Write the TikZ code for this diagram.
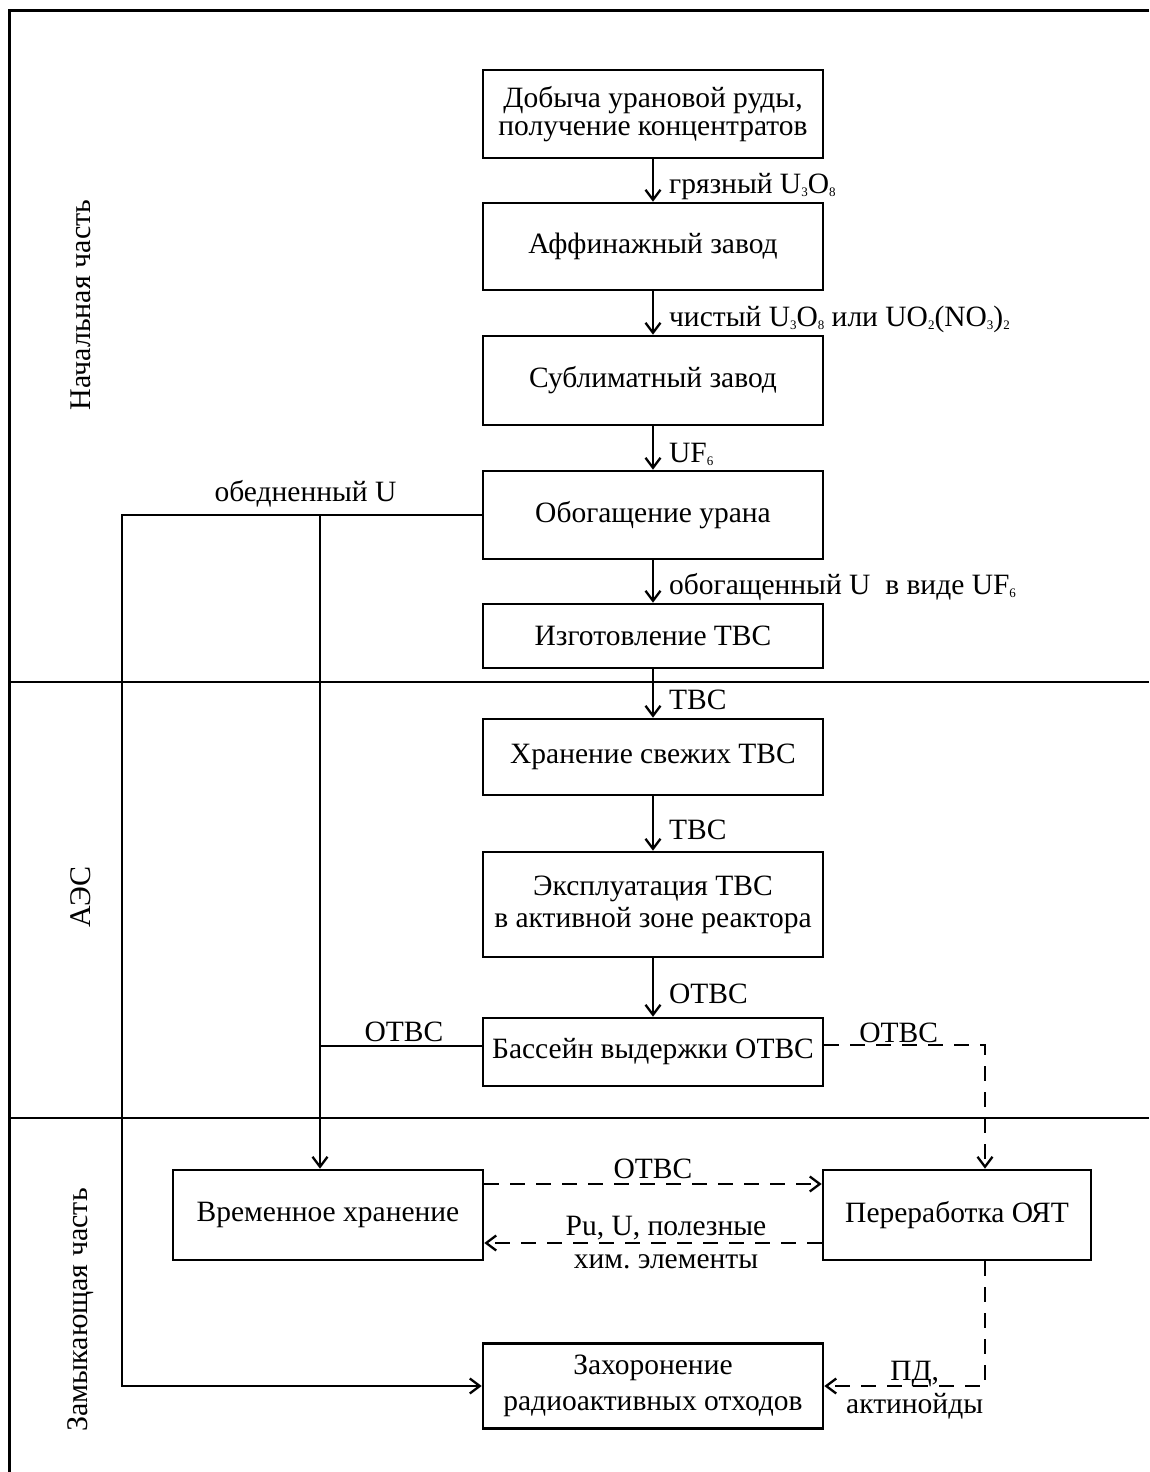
\documentclass[tikz,border=0pt]{standalone}
\usepackage{fontspec}
\setmainfont{Liberation Serif}
\usetikzlibrary{arrows.meta}
\newcommand\fsz{\fontsize{29.5}{31}\selectfont}
\newcommand\chsub[1]{\raisebox{-3pt}{\fontsize{13}{13}\selectfont #1}}
\begin{document}
\begin{tikzpicture}[x=1pt,y=-1pt,
  box/.style={draw, line width=2.6pt, minimum width=340pt, align=center, inner sep=2pt, font=\fsz},
  conn/.style={line width=2.3pt},
  arr/.style={-{Straight Barb[length=10pt,width=15pt,line width=2.3pt]}},
  dashline/.style={conn, dash pattern=on 15pt off 11pt},
  lbl/.style={font=\fsz, inner sep=1pt, align=center},
  ttl/.style={font=\fontsize{30}{32}\selectfont, inner sep=1pt, rotate=90},
  sep/.style={line width=1.8pt}]
\useasboundingbox (0,0) rectangle (1149,1472);
% frame and separators
\draw[line width=3pt] (1149,11) -- (9,11) -- (9,1472);
\draw[sep] (9,682) -- (1149,682);
\draw[sep] (9,1118) -- (1149,1118);
% section titles
\node[ttl] (t1) at (81,305) {Начальная часть};
\node[ttl] (t2) at (81,897) {АЭС};
\node[ttl] (t3) at (81,1310) {Замыкающая часть};
% boxes
\node[box, minimum height=88pt, font=\fontsize{29.5}{28}\selectfont] (b1) at (653,114) {Добыча урановой руды,\\получение концентратов};
\node[box, minimum height=87pt] (b2) at (653,246.5) {Аффинажный завод};
\node[box, minimum height=89pt] (b3) at (653,380.5) {Сублиматный завод};
\node[box, minimum height=88pt] (b4) at (653,515) {Обогащение урана};
\node[box, minimum height=64pt] (b5) at (653,636) {Изготовление ТВС};
\node[box, minimum height=76pt] (b6) at (653,757) {Хранение свежих ТВС};
\node[box, minimum height=105pt, font=\fontsize{29.5}{32}\selectfont] (b7) at (653,904.5) {Эксплуатация ТВС\\в активной зоне реактора};
\node[box, minimum height=68pt] (b8) at (653,1052) {Бассейн выдержки ОТВС};
\node[box, minimum width=310pt, minimum height=90pt] (b9) at (328,1215) {Временное хранение};
\node[box, minimum width=268pt, minimum height=90pt] (b10) at (957,1215) {Переработка ОЯТ};
\node[box, minimum height=85pt, font=\fontsize{29.5}{36}\selectfont] (b11) at (653,1386) {Захоронение\\радиоактивных отходов};
% main chain
\draw[conn, arr] (b1) -- (b2) node[lbl, midway, anchor=west, xshift=14pt, yshift=-6pt] {грязный U\chsub{3}O\chsub{8}};
\draw[conn, arr] (b2) -- (b3) node[lbl, midway, anchor=west, xshift=14pt, yshift=-6pt] {чистый U\chsub{3}O\chsub{8} или UO\chsub{2}(NO\chsub{3})\chsub{2}};
\draw[conn, arr] (b3) -- (b4) node[lbl, midway, anchor=west, xshift=14pt, yshift=-6pt] {UF\chsub{6}};
\draw[conn, arr] (b4) -- (b5) node[lbl, midway, anchor=west, xshift=14pt, yshift=-6pt] {обогащенный U\ \ в виде UF\chsub{6}};
\draw[conn, arr] (b5) -- (b6) node[lbl, midway, anchor=west, xshift=14pt, yshift=-6pt] {ТВС};
\draw[conn, arr] (b6) -- (b7) node[lbl, midway, anchor=west, xshift=14pt, yshift=-6pt] {ТВС};
\draw[conn, arr] (b7) -- (b8) node[lbl, midway, anchor=west, xshift=14pt, yshift=-6pt] {ОТВС};
% left connectors
\coordinate (xL) at (122,0);
\coordinate (xM) at (320,0);
\draw[conn, arr] (b4.west) -- node[lbl, above=6pt, pos=0.49] {обедненный U} (b4.west -| xL) |- (b11.west);
\draw[conn, arr] (b4.west -| xM) -- (xM |- b9.north);
\coordinate (o8) at ([yshift=6pt]b8.west);
\draw[conn] (o8) -- node[lbl, above=2pt, xshift=3pt] {ОТВС} (o8 -| xM);
% right dashed connectors
\coordinate (xR) at (985,0);
\coordinate (e8) at ([yshift=7pt]b8.east);
\draw[dashline, arr] (e8) -- node[lbl, above=0pt, xshift=-6pt] {ОТВС} (e8 -| xR) -- (xR |- b10.north);
\draw[dashline, arr] (xR |- b10.south) |- node[lbl, pos=0.75, xshift=10pt, yshift=-4pt, font=\fontsize{29.5}{33}\selectfont] {ПД,\\актинойды} (b11.east);
% between b9 and b10
\coordinate (o9) at ([yshift=31pt]b9.east);
\coordinate (p10) at ([yshift=-28pt]b10.west);
\draw[dashline, arr] (o9) -- node[lbl, above=3pt] {ОТВС} (o9 -| b10.west);
\draw[dashline, arr] (p10) -- node[lbl, xshift=13pt, font=\fontsize{29.5}{33}\selectfont] {Pu, U, полезные\\хим.\ элементы} (p10 -| b9.east);
\end{tikzpicture}
\end{document}
